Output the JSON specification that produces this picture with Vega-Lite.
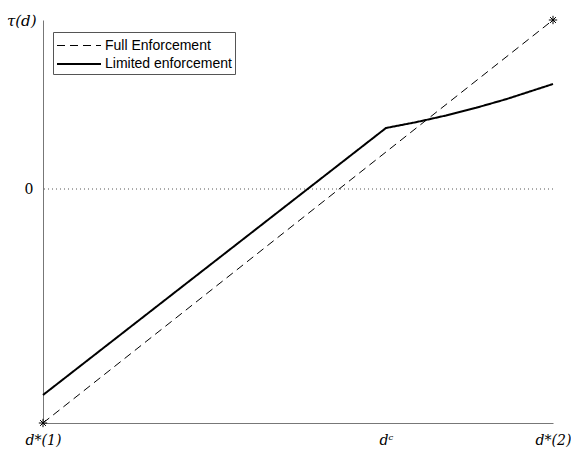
{
  "$schema": "https://vega.github.io/schema/vega-lite/v6.json",
  "width": 510,
  "height": 403,
  "autosize": {"type": "none"},
  "padding": {"left": 43, "top": 20, "right": 18, "bottom": 32},
  "background": "white",
  "config": {"view": {"stroke": null}},
  "datasets": {
    "lines": [
      {"series": "Full Enforcement", "x": 0, "y": -2.34},
      {"series": "Full Enforcement", "x": 1, "y": 1.69},
      {"series": "Limited enforcement", "x": 0, "y": -2.06},
      {"series": "Limited enforcement", "x": 0.6725, "y": 0.61},
      {"series": "Limited enforcement", "x": 0.7314, "y": 0.668},
      {"series": "Limited enforcement", "x": 0.7902, "y": 0.735},
      {"series": "Limited enforcement", "x": 0.849, "y": 0.812},
      {"series": "Limited enforcement", "x": 0.9078, "y": 0.8975},
      {"series": "Limited enforcement", "x": 1, "y": 1.05}
    ],
    "stars": [
      {"x": 0, "y": -2.34},
      {"x": 1, "y": 1.69}
    ],
    "zero": [{"y": 0}]
  },
  "layer": [
    {
      "data": {"name": "zero"},
      "mark": {"type": "rule", "color": "#555", "strokeDash": [1, 3], "strokeWidth": 1},
      "encoding": {
        "y": {"field": "y", "type": "quantitative", "scale": {"domain": [-2.34, 1.69]}}
      }
    },
    {
      "data": {"name": "lines"},
      "mark": {"type": "line", "color": "black"},
      "encoding": {
        "x": {
          "field": "x", "type": "quantitative",
          "scale": {"domain": [0, 1], "nice": false, "zero": false},
          "axis": {
            "title": null, "grid": false, "ticks": false,
            "values": [0, 0.6725, 1],
            "labelExpr": "datum.value == 0 ? 'd*(1)' : datum.value == 1 ? 'd*(2)' : 'dᶜ'",
            "labelFont": "DejaVu Serif", "labelFontSize": 14, "labelFontStyle": "italic", "labelColor": "black",
            "labelPadding": 10, "labelFlush": false,
            "domainColor": "#777", "domainWidth": 1
          }
        },
        "y": {
          "field": "y", "type": "quantitative",
          "scale": {"domain": [-2.34, 1.69], "nice": false, "zero": false},
          "axis": {
            "title": "τ(d)", "titleAngle": 0, "titleAlign": "right", "titleBaseline": "middle",
            "titleX": -7, "titleY": 0, "titleFont": "DejaVu Serif", "titleFontSize": 15,
            "titleFontWeight": "normal", "titleFontStyle": "italic", "titleColor": "black",
            "grid": false, "ticks": false, "values": [0], "labelExpr": "'0'",
            "labelFont": "DejaVu Serif", "labelFontSize": 14, "labelColor": "black",
            "labelPadding": 10,
            "domainColor": "#777", "domainWidth": 1
          }
        },
        "strokeDash": {
          "field": "series", "type": "nominal",
          "scale": {"domain": ["Full Enforcement", "Limited enforcement"], "range": [[8, 5], [1, 0]]},
          "legend": {
            "title": null, "orient": "none", "legendX": 10, "legendY": 12,
            "strokeColor": "#555", "padding": 3, "fillColor": "white",
            "symbolType": "M-1,0L3.4,0", "symbolSize": 400, "symbolStrokeColor": "black",
            "labelFont": "Liberation Sans", "labelFontSize": 14, "labelColor": "black",
            "labelOffset": 27, "rowPadding": 0
          }
        },
        "strokeWidth": {
          "field": "series", "type": "nominal",
          "scale": {"domain": ["Full Enforcement", "Limited enforcement"], "range": [1, 2]},
          "legend": null
        }
      }
    },
    {
      "data": {"name": "stars"},
      "mark": {
        "type": "point",
        "shape": "M-1,0L1,0M0,-1L0,1M-0.7,-0.7L0.7,0.7M-0.7,0.7L0.7,-0.7",
        "filled": false, "color": "black", "size": 70, "strokeWidth": 1, "opacity": 1
      },
      "encoding": {
        "x": {"field": "x", "type": "quantitative"},
        "y": {"field": "y", "type": "quantitative"}
      }
    }
  ]
}
